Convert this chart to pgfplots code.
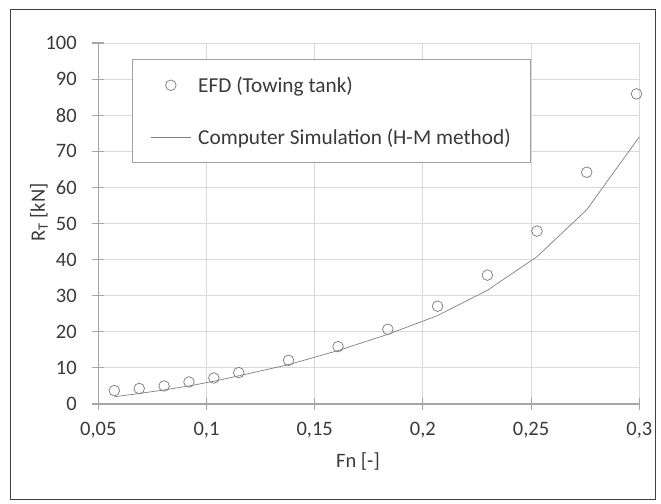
\documentclass[border=0pt]{standalone}
\usepackage{pgfplots}
\pgfplotsset{compat=1.18}
\usepackage{fontspec}
\setmainfont{Carlito}

\definecolor{txt}{HTML}{3A3A3A}
\definecolor{gridc}{HTML}{D9D9D9}
\definecolor{axc}{HTML}{A6A6A6}
\definecolor{markc}{HTML}{7F7F7F}
\definecolor{legc}{HTML}{A0A0A0}

\pgfplotsset{
    legmark/.style={legend image code/.code={%
        \draw[##1, mark repeat=2, mark phase=2] plot coordinates {(0pt,0pt) (20pt,0pt) (40pt,0pt)};}},
    legline/.style={legend image code/.code={%
        \draw[##1] (0pt,0pt) -- (40pt,0pt);}},
}

\begin{document}
\begin{tikzpicture}
\begin{axis}[
    scale only axis,
    width=541pt,
    height=361pt,
    xmin=0.05, xmax=0.3,
    ymin=0, ymax=100,
    xtick={0.05,0.1,0.15,0.2,0.25,0.3},
    xticklabels={{0,05},{0,1},{0,15},{0,2},{0,25},{0,3}},
    ytick={0,10,20,30,40,50,60,70,80,90,100},
    grid=major,
    grid style={draw=gridc, line width=0.9pt},
    axis x line*=bottom,
    axis y line*=left,
    axis line style={draw=axc, line width=1.1pt, -},
    tick align=center,
    major tick length=12pt,
    tick style={draw=axc, line width=1.1pt},
    /pgf/number format/assume math mode=true,
    ticklabel style={font=\fontsize{20.5}{24}\selectfont, text=txt},
    xticklabel style={yshift=-9pt},
    yticklabel style={xshift=-12pt},
    xlabel={Fn [-]},
    ylabel={R\textsubscript{T} [kN]},
    label style={font=\fontsize{20.5}{24}\selectfont, text=txt},
    xlabel style={at={(axis description cs:0.48,-0.16)}, anchor=center},
    ylabel style={at={(axis description cs:-0.1096,0.53)}, anchor=center, rotate=0},
    legend style={
        at={(rel axis cs:0.0623,0.955)}, anchor=north west,
        draw=legc, line width=1pt, fill=white,
        inner xsep=18pt, inner ysep=15pt,
        font=\fontsize{21.3}{25}\selectfont, text=txt,
        row sep=31pt,
        cells={anchor=west},
        /tikz/every odd column/.append style={column sep=5pt},
    },
    clip=false,
]
% towing tank measurements
\addplot[only marks, mark=o, mark size=5.3pt, mark options={draw=markc, fill=white, line width=0.75pt}, legmark]
    coordinates {
    (0.0574,3.7) (0.0689,4.3) (0.0804,5.0) (0.0919,6.1) (0.1034,7.2)
    (0.1149,8.7) (0.1379,12.1) (0.1608,15.9) (0.1838,20.7) (0.2068,27.1)
    (0.2298,35.7) (0.2527,47.9) (0.2757,64.2) (0.2987,85.9)
};
\addlegendentry{EFD (Towing tank)}
% H-M method prediction
\addplot[draw=markc, line width=0.7pt, no marks, legline]
    coordinates {
    (0.0574,2.0) (0.0689,2.9) (0.0804,3.9) (0.0919,5.0) (0.1034,6.3)
    (0.1149,7.8) (0.1379,10.9) (0.1608,14.8) (0.1838,19.3) (0.2068,24.5)
    (0.2298,31.5) (0.2527,40.8) (0.2757,53.8) (0.3000,74.0)
};
\addlegendentry{Computer Simulation (H-M method)}
\coordinate (fbl) at (rel axis cs:-0.1614,-0.2632);
\coordinate (ftr) at (rel axis cs:1.029,1.0914);
\coordinate (bbl) at (rel axis cs:-0.1817,-0.277);
\coordinate (btr) at (rel axis cs:1.0401,1.1191);
\end{axis}
\draw[black!75, line width=1pt] (fbl) rectangle (ftr);
\pgfresetboundingbox
\path[use as bounding box] (bbl) rectangle (btr);
\end{tikzpicture}
\end{document}
